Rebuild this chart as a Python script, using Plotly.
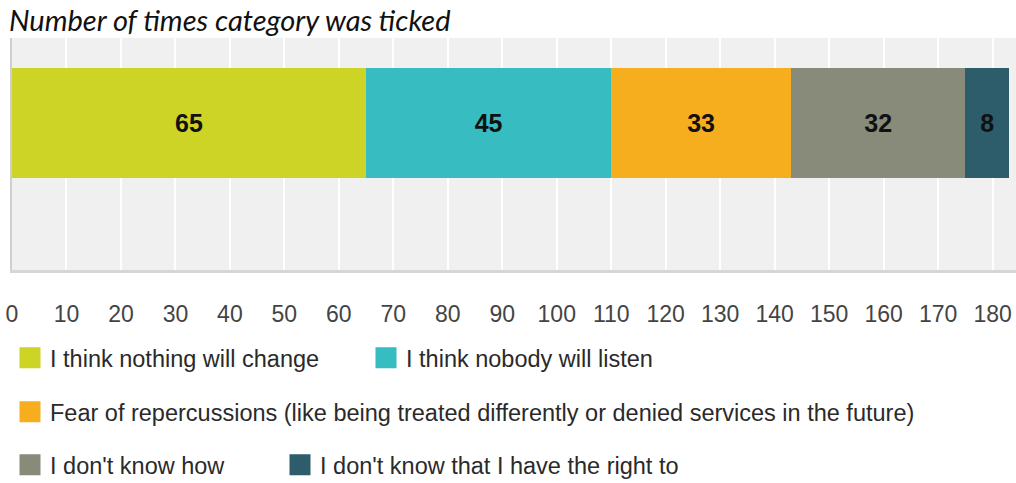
import plotly.graph_objects as go

categories = ["I think nothing will change", "I think nobody will listen",
              "Fear of repercussions (like being treated differently or denied services in the future)",
              "I don't know how", "I don't know that I have the right to"]
values = [65, 45, 33, 32, 8]
colors = ["#cdd425", "#36bcc1", "#f6ae1e", "#888a7a", "#2d5c6b"]
tick_vals = list(range(0, 181, 10))

W, H = 1016, 483
# legend placement (container pixels): one legend per entry
legend_ids = ["legend", "legend2", "legend3", "legend4", "legend5"]
legend_px = [(10, 358), (366, 358), (10, 412), (10, 465), (280, 465)]

fig = go.Figure()
for name, v, c in zip(categories, values, colors):
    fig.add_trace(go.Bar(
        x=[v], y=[0], name=name, orientation="h", width=0.474,
        marker=dict(color=c, line=dict(width=0)),
        text=[v], texttemplate="<b>%{x}</b>", textposition="inside",
        insidetextanchor="middle",
        textfont=dict(family="Liberation Sans, Arial", size=25, color="#111111"),
        showlegend=False,
    ))
# legend-only entries (larger square swatches)
for name, c, lg in zip(categories, colors, legend_ids):
    fig.add_trace(go.Scatter(
        x=[None], y=[None], mode="markers", name=name,
        marker=dict(symbol="square", size=16, color=c, line=dict(color=c, width=5)),
        legend=lg, hoverinfo="skip",
    ))

legend_font = dict(family="Liberation Sans, Arial", size=23.5, color="#2a2a2a")
common = dict(orientation="h", xref="container", yref="container", xanchor="left",
              yanchor="middle", font=legend_font, bgcolor="rgba(0,0,0,0)", itemclick=False)
legends = {lg: dict(x=px / W, y=1 - py / H, **common) for lg, (px, py) in zip(legend_ids, legend_px)}

fig.update_layout(
    width=W, height=H,
    margin=dict(l=12, r=0, t=38, b=213),
    paper_bgcolor="white", plot_bgcolor="#f0f0f0",
    barmode="stack", showlegend=True,
    title=dict(text="Number of times category was ticked", xref="container", yref="container",
               x=9 / W, y=1 - 21 / H, xanchor="left", yanchor="middle",
               font=dict(family="Lato, Open Sans, sans-serif", size=29, color="#111111", style="italic")),
    xaxis=dict(range=[0, 184.3], tickvals=tick_vals, showgrid=True, gridcolor="white", gridwidth=2,
               zeroline=False, showline=True, linecolor="#d6d6d6", linewidth=3,
               ticks="", ticklabelstandoff=21,
               tickfont=dict(family="Liberation Sans, Arial", size=23, color="#444444")),
    yaxis=dict(range=[-0.6336, 0.3664], showticklabels=False, showgrid=False, zeroline=False,
               showline=True, linecolor="#cfcfcf", linewidth=2, fixedrange=True),
    **legends,
)

fig.write_html("out.html", config={"displayModeBar": False})
with open("out.html", "r", encoding="utf-8") as f:
    html = f.read()
html = html.replace("<body>", '<body style="margin:0;padding:0;overflow:hidden">', 1)
with open("out.html", "w", encoding="utf-8") as f:
    f.write(html)
